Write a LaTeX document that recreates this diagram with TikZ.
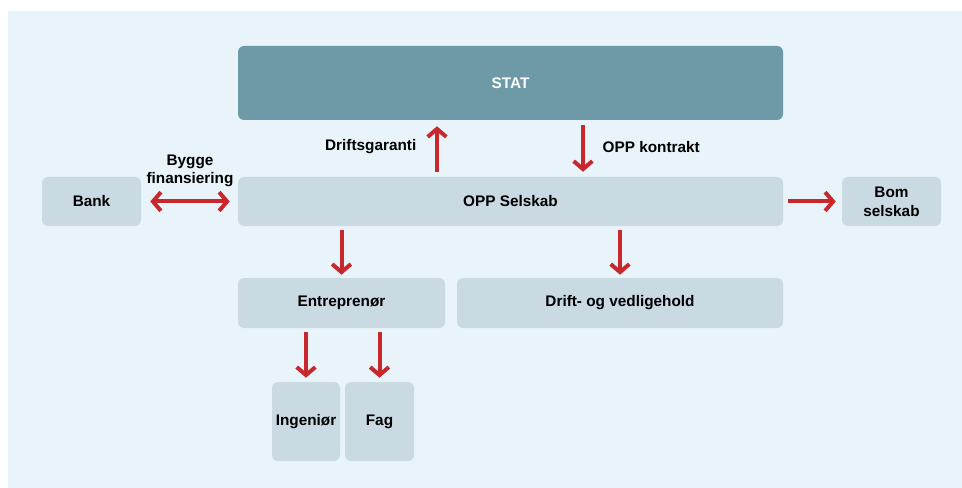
\documentclass[tikz,border=0pt]{standalone}
\usepackage{fontspec}
\setmainfont{Liberation Sans}
\usetikzlibrary{arrows.meta,calc}
\definecolor{bgblue}{HTML}{E8F3FA}
\definecolor{boxblue}{HTML}{C9DAE3}
\definecolor{statteal}{HTML}{6E9AA8}
\definecolor{arrred}{HTML}{C8282C}
\begin{document}
\begin{tikzpicture}[
            x={(0.75pt,0pt)},
            y={(0pt,-0.75pt)},
            every node/.style={font=\fontsize{11.5}{14}\selectfont\bfseries},
            box/.style={fill=boxblue, rounded corners=4.5pt, inner sep=0pt, align=center},
            arr/.style={draw=arrred, line width=3pt, -{Straight Barb[length=6pt,width=14pt]}},
            dblarr/.style={draw=arrred, line width=3pt, {Straight Barb[length=6pt,width=14pt]}-{Straight Barb[length=6pt,width=14pt]}}
        ]
        \useasboundingbox (0,0) rectangle (962,488);
        \fill[bgblue] (8,11) rectangle (962,488);

        \node[box, fill=statteal, text=white, minimum width=408.75pt, minimum height=55.5pt] (stat) at (510.5,83) {STAT};
        \node[box, minimum width=408.75pt, minimum height=36.75pt] (opp) at (510.5,201.5) {OPP Selskab};
        \node[box, minimum width=74.25pt, minimum height=36.75pt] (bank) at (91.5,201.5) {Bank};
        \node[box, minimum width=74.25pt, minimum height=36.75pt] (bom) at (891.5,201.5) {Bom\\selskab};
        \node[box, minimum width=155.25pt, minimum height=37.5pt] (entr) at (341.5,303) {Entreprenør};
        \node[box, minimum width=244.5pt, minimum height=37.5pt] (drift) at (620,303) {Drift- og vedligehold};
        \node[box, minimum width=51pt, minimum height=59.25pt] (ing) at (306,421.5) {Ingeniør};
        \node[box, minimum width=51.75pt, minimum height=59.25pt] (fag) at (379.5,421.5) {Fag};

        \node[align=center] (bygg) at (190,171) {Bygge\\finansiering};
        \node[anchor=east] (garanti) at (421,147) {Driftsgaranti};
        \node[anchor=west] (kontrakt) at (598,147) {OPP kontrakt};

        \draw[arr] ($(opp.north)+(-73.5,-5)$) -- ($(stat.south)+(-73.5,6)$);
        \draw[arr] ($(stat.south)+(72.5,5)$) -- ($(opp.north)+(72.5,-5)$);
        \draw[dblarr] ($(bank.east)+(9,0)$) -- ($(opp.west)+(-8,0)$);
        \draw[arr] ($(opp.east)+(5,0)$) -- ($(bom.west)+(-6,0)$);
        \draw[arr] ($(opp.south -| entr.north)+(0,4)$) -- ($(entr.north)+(0,-3)$);
        \draw[arr] ($(opp.south -| drift.north)+(0,4)$) -- ($(drift.north)+(0,-3)$);
        \draw[arr] ($(entr.south -| ing.north)+(0,4)$) -- ($(ing.north)+(0,-4)$);
        \draw[arr] ($(entr.south -| fag.north)+(0,4)$) -- ($(fag.north)+(0,-4)$);
    \end{tikzpicture}
\end{document}
